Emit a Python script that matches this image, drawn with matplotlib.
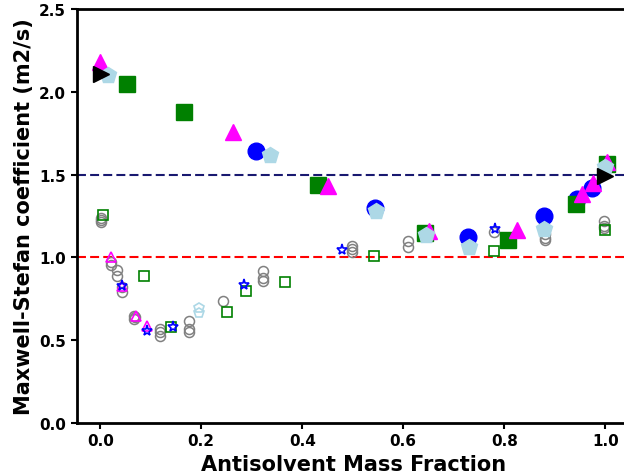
import matplotlib
matplotlib.use('Agg')
import matplotlib.pyplot as plt

# filled markers (one set per model/source)
black_x = [0.002, 1.0]
black_y = [2.105, 1.49]

cyan_x = [0.016, 0.337, 0.547, 0.645, 0.731, 0.879, 1.0]
cyan_y = [2.10, 1.62, 1.28, 1.135, 1.063, 1.17, 1.546]

green_x = [0.053, 0.166, 0.432, 0.644, 0.808, 0.943, 1.003]
green_y = [2.05, 1.878, 1.437, 1.147, 1.105, 1.325, 1.564]

magenta_x = [0.0, 0.263, 0.451, 0.651, 0.826, 0.954, 0.976, 1.003]
magenta_y = [2.18, 1.757, 1.43, 1.16, 1.165, 1.38, 1.45, 1.576]

blue_x = [0.309, 0.545, 0.729, 0.879, 0.944, 0.974]
blue_y = [1.64, 1.30, 1.123, 1.25, 1.35, 1.42]

# open markers
gray_x = [0.002, 0.002, 0.002, 0.022, 0.022, 0.033, 0.033, 0.043, 0.043,
          0.066, 0.066, 0.068, 0.118, 0.118, 0.118, 0.176, 0.176, 0.176,
          0.244, 0.323, 0.323, 0.323, 0.498, 0.498, 0.498, 0.609, 0.609,
          0.779, 0.88, 0.88, 0.88, 0.88, 0.997, 0.997, 0.997]
gray_y = [1.236, 1.226, 1.216, 0.970, 0.954, 0.926, 0.89, 0.82, 0.79,
          0.648, 0.628, 0.64, 0.568, 0.548, 0.527, 0.618, 0.568, 0.551,
          0.735, 0.92, 0.874, 0.86, 1.071, 1.05, 1.03, 1.10, 1.06,
          1.155, 1.17, 1.14, 1.12, 1.105, 1.22, 1.19, 1.18]

osq_x = [0.005, 0.086, 0.141, 0.252, 0.288, 0.366, 0.543, 0.779, 1.0]
osq_y = [1.256, 0.89, 0.578, 0.672, 0.797, 0.85, 1.007, 1.04, 1.167]

otri_x = [0.022, 0.043, 0.071, 0.092]
otri_y = [1.004, 0.83, 0.644, 0.588]

star_x = [0.043, 0.092, 0.145, 0.284, 0.478, 0.782]
star_y = [0.83, 0.557, 0.582, 0.833, 1.045, 1.17]

opent_x = [0.195, 0.195]
opent_y = [0.693, 0.664]

fig = plt.figure(figsize=(6.24, 4.77), dpi=100)
ax = fig.add_axes([76.5 / 624, 53 / 477, 554 / 624, 414 / 477])

ax.axhline(1.5, color='#191970', ls='--', lw=1.5, dashes=(4.3, 2.0), zorder=1)
ax.axhline(1.0, color='red', ls='--', lw=1.5, dashes=(4.3, 2.0), zorder=1)

ax.plot(gray_x, gray_y, 'o', ms=7.2, mfc='none', mec='gray', mew=1.1)
ax.plot(osq_x, osq_y, 's', ms=7, mfc='none', mec='green', mew=1.2)
ax.plot(otri_x, otri_y, '^', ms=7, mfc='none', mec='magenta', mew=1.2)
ax.plot(star_x, star_y, '*', ms=8, mfc='none', mec='blue', mew=1.2)
ax.plot(opent_x, opent_y, 'p', ms=7, mfc='none', mec='lightblue', mew=1.2)

ax.plot(blue_x, blue_y, 'o', ms=12, color='blue', ls='none')
ax.plot(green_x, green_y, 's', ms=11, color='green', ls='none')
ax.plot(magenta_x, magenta_y, '^', ms=12, color='magenta', ls='none')
ax.plot(cyan_x, cyan_y, 'p', ms=12, color='lightblue', ls='none')
ax.plot(black_x, black_y, '>', ms=12, color='black', ls='none')

ax.set_xlim(-0.047, 1.05)
ax.set_ylim(0, 2.5)
ax.set_xticks([0.0, 0.2, 0.4, 0.6, 0.8, 1.0])
ax.set_yticks([0.0, 0.5, 1.0, 1.5, 2.0, 2.5])

for s in ax.spines.values():
    s.set_linewidth(2)
ax.tick_params(width=1.5, length=4, labelsize=11)
for lbl in ax.get_xticklabels() + ax.get_yticklabels():
    lbl.set_fontweight('bold')

ax.set_xlabel('Antisolvent Mass Fraction', fontsize=15, fontweight='bold')
ax.set_ylabel('Maxwell-Stefan coefficient (m2/s)', fontsize=15, fontweight='bold')

fig.savefig('out.png', dpi=100)
